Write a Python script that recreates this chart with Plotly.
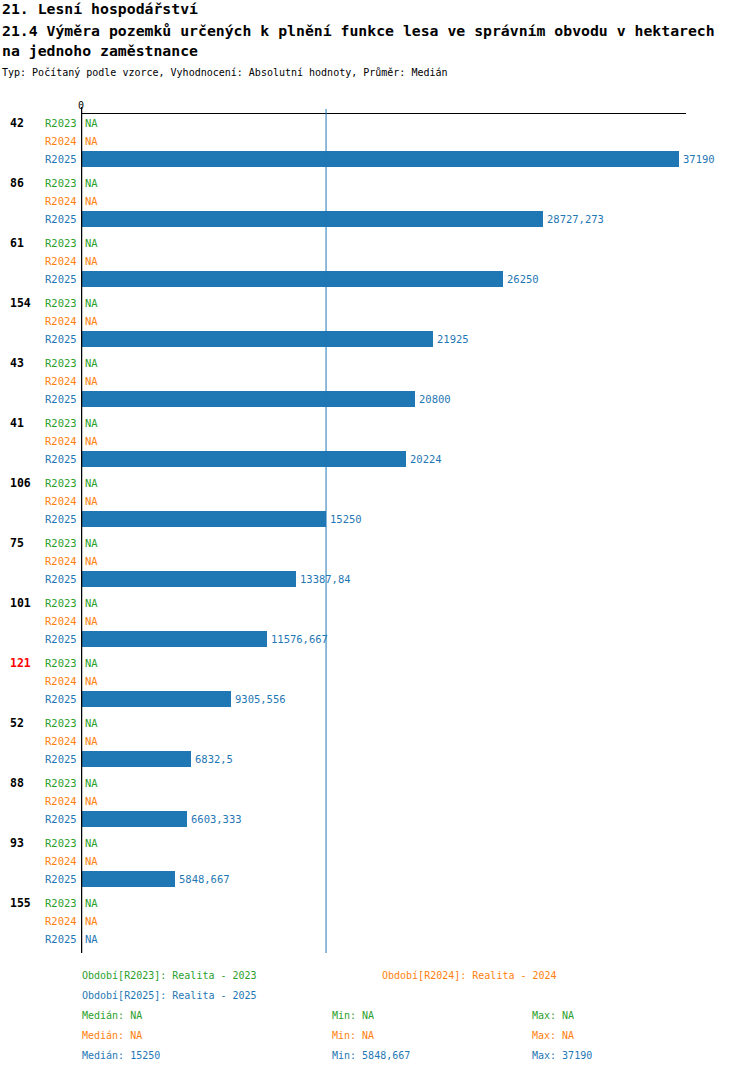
import plotly.graph_objects as go

# data
UNITS = ['42', '86', '61', '154', '43', '41', '106', '75', '101', '121', '52', '88', '93', '155']
R2025 = [37190, 28727.273, 26250, 21925, 20800, 20224, 15250, 13387.84, 11576.667,
         9305.556, 6832.5, 6603.333, 5848.667, None]
R2023 = [None] * len(UNITS)
R2024 = [None] * len(UNITS)
PERIODS = ['R2023', 'R2024', 'R2025']
PERIOD_NAMES = ['Realita - 2023', 'Realita - 2024', 'Realita - 2025']
HIGHLIGHT = '121'

COLORS = ['#2ca02c', '#ff7f0e', '#1f77b4']
FONT = 'DejaVu Sans Mono'

# layout in pixels
W, H = 750, 1074
L, R, T, B = 81, 686, 114, 953
GROUP_STEP, ROW_STEP, FIRST = 60, 18, 123


def fmt(v):
    if v is None:
        return 'NA'
    if float(v).is_integer():
        return str(int(v))
    return str(round(v, 3)).replace('.', ',')


def paper_y(py):
    return (B - py) / (B - T)


def paper_x(px):
    return (px - L) / (R - L)


def median(vals):
    s = sorted(v for v in vals if v is not None)
    if not s:
        return None
    n = len(s)
    return s[n // 2] if n % 2 else (s[n // 2 - 1] + s[n // 2]) / 2


series = [R2023, R2024, R2025]
fig = go.Figure()
annotations = []

for si, vals in enumerate(series):
    ys = [g * GROUP_STEP + si * ROW_STEP for g in range(len(UNITS))]
    fig.add_trace(go.Bar(
        x=vals, y=ys, orientation='h', width=16,
        marker=dict(color=COLORS[si], line=dict(width=0)),
        showlegend=False, hoverinfo='skip'))
    # value labels just right of the bar end (or the axis for NA)
    for v, y in zip(vals, ys):
        annotations.append(dict(
            x=v if v is not None else 0, xref='x', y=y, yref='y', text=fmt(v),
            xanchor='left', xshift=2, showarrow=False,
            font=dict(family=FONT, size=10.5, color=COLORS[si])))

for g, unit in enumerate(UNITS):
    base = g * GROUP_STEP
    annotations.append(dict(
        x=paper_x(8), xref='paper', y=base, yref='y', text='<b>%s</b>' % unit,
        xanchor='left', showarrow=False,
        font=dict(family=FONT, size=11.5, color='#ff0000' if unit == HIGHLIGHT else '#000000')))
    for si, p in enumerate(PERIODS):
        annotations.append(dict(
            x=paper_x(79), xref='paper', y=base + si * ROW_STEP, yref='y', text=p,
            xanchor='right', showarrow=False,
            font=dict(family=FONT, size=10.5, color=COLORS[si])))

# titles
titles = [
    ('<b>21. Lesní hospodářství</b>', 9, 14.8),
    ('<b>21.4 Výměra pozemků určených k plnění funkce lesa ve správním obvodu v hektarech</b>', 30, 14.8),
    ('<b>na jednoho zaměstnance</b>', 51, 14.8),
    ('Typ: Počítaný podle vzorce, Vyhodnocení: Absolutní hodnoty, Průměr: Medián', 73, 10),
]
for text, py, size in titles:
    annotations.append(dict(
        x=paper_x(0), xref='paper', y=paper_y(py), yref='paper', text=text,
        xanchor='left', yanchor='middle', showarrow=False,
        font=dict(family=FONT, size=size, color='#000000')))


# legend / stats
def stat_line(text, px, py, color):
    annotations.append(dict(
        x=paper_x(px), xref='paper', y=paper_y(py), yref='paper', text=text,
        xanchor='left', yanchor='middle', showarrow=False,
        font=dict(family=FONT, size=10, color=color)))


stat_line('Období[%s]: %s' % (PERIODS[0], PERIOD_NAMES[0]), 80, 975, COLORS[0])
stat_line('Období[%s]: %s' % (PERIODS[1], PERIOD_NAMES[1]), 380, 975, COLORS[1])
stat_line('Období[%s]: %s' % (PERIODS[2], PERIOD_NAMES[2]), 80, 995, COLORS[2])
for si, vals in enumerate(series):
    nn = [v for v in vals if v is not None]
    py = 1015 + si * 20
    stat_line('Medián: %s' % fmt(median(vals)), 80, py, COLORS[si])
    stat_line('Min: %s' % fmt(min(nn) if nn else None), 330, py, COLORS[si])
    stat_line('Max: %s' % fmt(max(nn) if nn else None), 530, py, COLORS[si])

shapes = [
    # vertical zero axis
    dict(type='line', xref='x', x0=0, x1=0, yref='paper', y0=0, y1=paper_y(107),
         line=dict(color='#000000', width=2.5)),
]
med = median(R2025)
if med is not None:
    shapes.append(dict(type='line', xref='x', x0=med, x1=med, yref='paper', y0=0,
                       y1=paper_y(109), line=dict(color=COLORS[2], width=1)))

fig.update_layout(
    width=W, height=H, autosize=False,
    margin=dict(l=L, r=W - R, t=T, b=H - B, pad=0),
    plot_bgcolor='white', paper_bgcolor='white',
    bargap=0, barmode='overlay',
    annotations=annotations, shapes=shapes,
    xaxis=dict(range=[0, 37650], side='top', tickvals=[0], ticktext=['0'],
               showgrid=False, zeroline=False, showline=True, linecolor='#000000',
               linewidth=1, ticks='', tickfont=dict(family=FONT, size=10, color='#000000'),
               fixedrange=True),
    yaxis=dict(range=[B - FIRST, T - FIRST], showticklabels=False, showgrid=False,
               zeroline=False, showline=False, fixedrange=True),
)

# drop the default page margin so the figure sits at the window's top-left
fig.write_html('out.html', config={'displayModeBar': False},
               post_script="document.body.style.margin='0';")
